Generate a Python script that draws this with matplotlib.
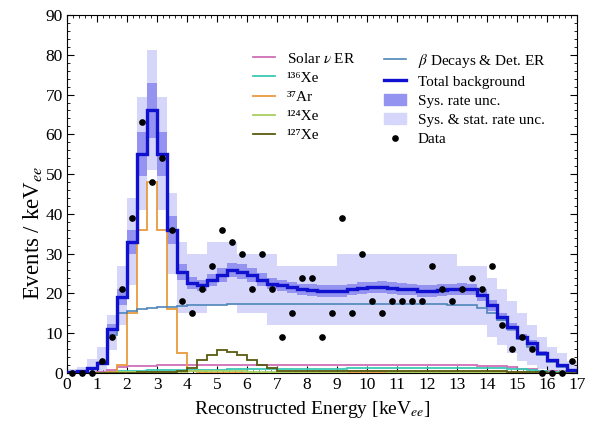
import numpy as np
import matplotlib
matplotlib.use("Agg")
import matplotlib.pyplot as plt
from matplotlib.lines import Line2D
from matplotlib.patches import Patch
from matplotlib.ticker import MultipleLocator

plt.rcParams["font.family"] = ["Liberation Serif", "DejaVu Serif"]
plt.rcParams["mathtext.fontset"] = "stix"

# Binning: 51 bins of 1/3 keV between 0 and 17 keV
bin_width = 1.0 / 3.0
n_bins = 51
edges = np.arange(n_bins + 1) * bin_width
centers = edges[:-1] + bin_width / 2

total_bkg = [0.3, 0.4, 1.2, 2.6, 11, 19, 33, 55, 66, 55, 36, 25.5, 22.6, 22, 23.4, 24.6,
             25.9, 25.5, 24.6, 23.5, 22.5, 22, 21.5, 21, 20.8, 20.6, 20.5, 20.7, 21, 21.3,
             21.5, 21.6, 21.4, 21.2, 21, 20.7, 20.5, 20.8, 21, 21.2, 21, 19.6, 17, 14.1,
             11.6, 9.1, 7.5, 5, 3.3, 2, 0.8]

beta_det = [0.3, 0.4, 1.1, 2.4, 9.5, 15, 15.6, 16, 16.3, 16.5, 16.7, 16.9, 17, 17.1, 17.2,
            17.2, 17.3, 17.3, 17.3, 17.3, 17.3, 17.3, 17.3, 17.3, 17.3, 17.3, 17.3, 17.3,
            17.3, 17.3, 17.4, 17.4, 17.4, 17.4, 17.4, 17.3, 17.3, 17.3, 17.2, 17.2, 17,
            16.3, 15, 13.3, 11, 8.5, 6.5, 4.5, 2.8, 1.6, 0.6]

solar_nu = [0, 0, 0.1, 0.3, 0.8, 1.4, 1.7, 1.8, 1.8, 1.9, 1.9, 1.9, 1.9, 1.9, 1.9, 1.9,
            1.9, 1.9, 1.9, 1.9, 1.9, 1.9, 1.9, 1.9, 1.9, 1.9, 1.9, 1.9, 1.9, 1.9, 1.9, 1.9,
            1.9, 1.9, 1.9, 1.9, 1.9, 1.9, 1.9, 1.9, 1.9, 1.85, 1.8, 1.7, 1.4, 1.1, 0.9, 0.6,
            0.4, 0.2, 0.1]

xe136 = [0, 0, 0, 0.1, 0.3, 0.5, 0.6, 0.6, 0.65, 0.7, 0.7, 0.75, 0.8, 0.8, 0.85, 0.85,
         0.9, 0.9, 0.95, 0.95, 1.0, 1.0, 1.0, 1.05, 1.05, 1.1, 1.1, 1.1, 1.15, 1.15, 1.2,
         1.2, 1.2, 1.25, 1.25, 1.25, 1.3, 1.3, 1.3, 1.3, 1.3, 1.3, 1.25, 1.2, 1.1, 0.9,
         0.7, 0.5, 0.3, 0.2, 0.1]

ar37 = [0, 0, 0, 0, 0.3, 2, 15, 36, 48, 36, 16, 5, 0.5, 0.2, 0.1, 0.1, 0.1, 0.1, 0, 0,
        0, 0, 0, 0, 0, 0, 0, 0, 0, 0, 0, 0, 0, 0, 0, 0, 0, 0, 0, 0, 0, 0, 0, 0, 0, 0, 0,
        0, 0, 0, 0]

xe124 = [0, 0, 0, 0, 0.1, 0.2, 0.3, 0.3, 0.3, 0.3, 0.3, 0.3, 0.4, 0.5, 0.6, 0.6, 0.5,
         0.4, 0.3, 0.3, 0.3, 0.3, 0.3, 0.3, 0.3, 0.3, 0.3, 0.3, 0.4, 0.5, 0.5, 0.4, 0.3,
         0.3, 0.3, 0.3, 0.3, 0.3, 0.3, 0.3, 0.3, 0.3, 0.3, 0.2, 0.2, 0.2, 0.1, 0.1, 0.1,
         0, 0]

xe127 = [0, 0, 0, 0, 0, 0, 0.1, 0.2, 0.2, 0.2, 0.3, 0.4, 1.2, 3.3, 4.5, 5.8, 5.4, 4.5,
         3.3, 2.0, 1.2, 0.6, 0.5, 0.5, 0.5, 0.5, 0.5, 0.5, 0.5, 0.5, 0.5, 0.5, 0.5, 0.5,
         0.5, 0.5, 0.5, 0.5, 0.5, 0.5, 0.5, 0.5, 0.4, 0.4, 0.3, 0.3, 0.2, 0.2, 0.1, 0.1, 0]

# Half-width of the systematic rate uncertainty band
sys_halfwidth = [0.1, 0.1, 0.2, 0.4, 1.2, 2, 3, 5.5, 7, 5.5, 3.5, 2, 1.6, 1.5, 1.6, 1.7,
                 1.8, 1.8, 1.7, 1.6, 1.5, 1.5, 1.5, 1.5, 1.5, 1.5, 1.5, 1.5, 1.5, 1.5, 1.5,
                 1.5, 1.5, 1.5, 1.5, 1.5, 1.5, 1.5, 1.5, 1.5, 1.5, 1.4, 1.3, 1.1, 1, 0.8,
                 0.7, 0.5, 0.3, 0.2, 0.1]

# Combined systematic + statistical band edges
stat_lo = [0, 0, 0, 0, 5.8, 12, 22, 41, 51, 41, 25, 15, 15, 15, 17, 17, 17, 15, 15, 15,
           12, 12, 12, 12, 12, 12, 12, 12, 12, 12, 12, 12, 12, 12, 12, 12, 12, 12, 12, 12,
           12, 12, 9, 7, 5, 3, 2, 1, 0, 0, 0]
stat_hi = [1, 1.5, 3.5, 6.6, 14.6, 27, 44, 69.5, 81.3, 69.5, 45.3, 33, 30, 30, 33, 33, 33,
           30, 30, 30, 30, 27, 27, 27, 27, 27, 27, 30, 30, 30, 30, 30, 30, 30, 30, 30, 30,
           30, 30, 27, 27, 27, 24, 21, 18, 15, 12, 9, 6.6, 5, 3]

data_x = centers
data_y = [0, 0, 0, 3, 9, 21, 39, 63, 48, 54, 36, 18, 15, 21, 27, 36, 33, 30, 21, 30, 21,
          9, 15, 24, 24, 9, 15, 39, 15, 30, 18, 15, 18, 18, 18, 18, 27, 21, 18, 21, 24,
          21, 27, 12, 6, 9, 6, 0, 0, 0, 3]

c_total = "#1010d0"
c_beta = "#4f86b8"
c_solar = "#d070b8"
c_xe136 = "#3cc8b4"
c_ar37 = "#e89a3c"
c_xe124 = "#a8d060"
c_xe127 = "#5a5a10"
c_sys = "#9494f0"
c_stat = "#d6d6fa"

fig = plt.figure(figsize=(5.94, 4.21), dpi=100)
ax = fig.add_axes([0.1128, 0.114, 0.8586, 0.8504])

stat_lo_a = np.array(stat_lo)
stat_hi_a = np.array(stat_hi)
tot = np.array(total_bkg)
sw = np.array(sys_halfwidth)

ax.stairs(stat_hi_a, edges, baseline=stat_lo_a, fill=True, color=c_stat, lw=0, zorder=1)
ax.stairs(tot + sw, edges, baseline=tot - sw, fill=True, color=c_sys, lw=0, zorder=2)

for vals, col in [(solar_nu, c_solar), (xe136, c_xe136), (ar37, c_ar37),
                  (xe124, c_xe124), (xe127, c_xe127)]:
    ax.stairs(vals, edges, color=col, lw=1.3, zorder=3)
ax.stairs(beta_det, edges, color=c_beta, lw=1.2, zorder=4)
ax.stairs(total_bkg, edges, color=c_total, lw=2.4, zorder=5)
ax.plot(data_x, data_y, "o", color="black", ms=3.8, zorder=6, clip_on=False)

ax.set_xlim(0, 17)
ax.set_ylim(0, 90)
ax.xaxis.set_major_locator(MultipleLocator(1))
ax.xaxis.set_minor_locator(MultipleLocator(0.2))
ax.yaxis.set_major_locator(MultipleLocator(10))
ax.yaxis.set_minor_locator(MultipleLocator(2))
ax.tick_params(which="both", direction="in", top=True, right=True, labelsize=12.5)
ax.tick_params(which="major", length=5, pad=3)
ax.tick_params(which="minor", length=2.5)
ax.set_xlabel(r"Reconstructed Energy [keV$_{ee}$]", fontsize=14)
ax.set_ylabel(r"Events / keV$_{ee}$", fontsize=16.5)
ax.xaxis.set_label_coords(0.482, -0.072)
ax.yaxis.set_label_coords(-0.045, 0.39)

leg_kw = dict(loc="upper left", frameon=False, fontsize=11, handlelength=1.4,
              handletextpad=0.8, borderaxespad=0, borderpad=0, labelspacing=0.36)

handles_a = [
    Line2D([], [], color=c_solar, lw=1.3),
    Line2D([], [], color=c_xe136, lw=1.3),
    Line2D([], [], color=c_ar37, lw=1.3),
    Line2D([], [], color=c_xe124, lw=1.3),
    Line2D([], [], color=c_xe127, lw=1.3),
]
labels_a = [r"Solar $\nu$ ER", "\u00b9\u00b3\u2076Xe", "\u00b3\u2077Ar",
            "\u00b9\u00b2\u2074Xe", "\u00b9\u00b2\u2077Xe"]
handles_b = [
    Line2D([], [], color=c_beta, lw=1.2),
    Line2D([], [], color=c_total, lw=2.4),
    Patch(color=c_sys),
    Patch(color=c_stat),
    Line2D([], [], color="black", marker="o", ls="none", ms=3.8),
]
labels_b = [r"$\beta$ Decays & Det. ER", "Total background", "Sys. rate unc.",
            "Sys. & stat. rate unc.", "Data"]

leg_a = ax.legend(handles_a, labels_a, bbox_to_anchor=(0.365, 0.898), **leg_kw)
ax.add_artist(leg_a)
ax.legend(handles_b, labels_b, bbox_to_anchor=(0.622, 0.898), **leg_kw)

fig.savefig("out.png", dpi=100)
